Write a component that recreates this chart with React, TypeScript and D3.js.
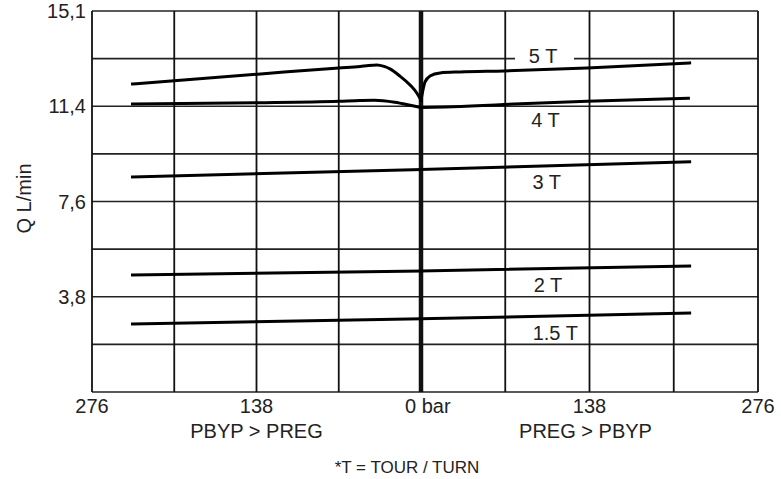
import React from 'react';
import * as d3 from 'd3';

// pressure (bar, negative = PBYP > PREG side) vs flow Q (L/min)
const turns = ['1.5 T', '2 T', '3 T', '4 T', '5 T'];

const turn15: [number, number][] = [[-242, 2.71], [0, 2.92], [220, 3.15]];
const turn2: [number, number][] = [[-242, 4.67], [0, 4.83], [220, 5.03]];
const turn3: [number, number][] = [[-242, 8.58], [0, 8.88], [220, 9.18]];
const turn4: [number, number][] = [
  [-242, 11.49], [-137, 11.54], [-69, 11.6], [-51, 11.63], [-39, 11.64],
  [-22, 11.56], [-9, 11.44], [0, 11.35],
  [20, 11.37], [68, 11.47], [136, 11.6], [219, 11.72],
];
const turn5: [number, number][] = [
  [-242, 12.29], [-137, 12.68], [-69, 12.93], [-51, 12.99], [-44, 13.03],
  [-37, 13.05], [-31, 12.99], [-26, 12.89], [-17.6, 12.6], [-9.2, 12.25], [-3.4, 11.92], [0, 11.64],
  [1.5, 12.02], [3.3, 12.37], [7.4, 12.61], [15.6, 12.73], [32, 12.77],
  [68, 12.81], [136, 12.93], [220, 13.13],
];
const curves = [turn15, turn2, turn3, turn4, turn5];

const xTicks = [-276, -207, -138, -69, 0, 69, 138, 207, 276];
const xLabelled = [-276, -138, 138, 276];
const xTickText = ['276', '138', '138', '276'];
const yTicks = [0, 1.9, 3.8, 5.7, 7.6, 9.5, 11.4, 13.3, 15.2];
const yLabelled = [3.8, 7.6, 11.4, 15.2];
const yTickText = ['3,8', '7,6', '11,4', '15,1'];

const FONT = 'Arial, "Liberation Sans", sans-serif';

const App: React.FC = () => {
  const width = 781;
  const height = 479;

  const x = d3.scaleLinear().domain([-276, 0, 276]).range([92, 421, 758]);
  const y = d3.scaleLinear().domain([0, 15.2]).range([392, 11]);

  const line = d3.line<[number, number]>()
    .x(d => x(d[0]))
    .y(d => y(d[1]))
    .curve(d3.curveMonotoneX);

  // label anchors (pressure, Q) for each turn count
  const labelPos: [number, number][] = [[110, 2.07], [104, 3.99], [103, 8.1], [102, 10.57], [100, 13.13]];

  return (
    <svg width={width} height={height} style={{ position: 'absolute', left: 0, top: 0, background: '#fff' }}
      fontFamily={FONT}>
      {/* horizontal grid */}
      {yTicks.map(t => (
        <line key={'h' + t} x1={x(-276)} x2={x(276)} y1={y(t)} y2={y(t)} stroke="#222" strokeWidth={1.6} />
      ))}
      {/* vertical grid */}
      {xTicks.map(t => (
        <line key={'v' + t} x1={x(t)} x2={x(t)} y1={y(0)} y2={y(15.2)}
          stroke="#111" strokeWidth={t === 0 ? 4.5 : 1.8} />
      ))}
      {/* gap in the grid line behind the 5 T label */}
      <rect x={515} y={52} width={59} height={13} fill="#fff" />

      {curves.map((pts, i) => (
        <g key={turns[i]}>
          <path d={line(pts.filter(p => p[0] <= 0)) || ''} fill="none" stroke="#000" strokeWidth={3} strokeLinecap="square" />
          <path d={line(pts.filter(p => p[0] >= 0)) || ''} fill="none" stroke="#000" strokeWidth={3} strokeLinecap="square" />
        </g>
      ))}

      {turns.map((t, i) => (
        <text key={'l' + t} x={x(labelPos[i][0])} y={y(labelPos[i][1])} textAnchor="middle"
          fontSize={20} fill="#222">{t}</text>
      ))}

      {/* y tick labels */}
      {yLabelled.map((t, i) => (
        <text key={'yt' + t} x={86} y={y(t) + 7} textAnchor="end" fontSize={20} fill="#222">{yTickText[i]}</text>
      ))}
      {/* x tick labels */}
      {xLabelled.map((t, i) => (
        <text key={'xt' + t} x={x(t)} y={413} textAnchor="middle" fontSize={20} fill="#222">{xTickText[i]}</text>
      ))}
      <text x={x(0) - 16} y={413} fontSize={20} fill="#222">0 bar</text>

      <text x={x(-138)} y={438} textAnchor="middle" fontSize={20} fill="#222">PBYP &gt; PREG</text>
      <text x={x(138) - 4} y={438} textAnchor="middle" fontSize={20} fill="#222">PREG &gt; PBYP</text>

      <text transform={`translate(31,${(y(0) + y(15.2)) / 2 - 3}) rotate(-90)`} textAnchor="middle"
        fontSize={20} fill="#222">Q L/min</text>

      <text x={407} y={473} textAnchor="middle" fontSize={17} fill="#222">*T = TOUR / TURN</text>
    </svg>
  );
};

export default App;
